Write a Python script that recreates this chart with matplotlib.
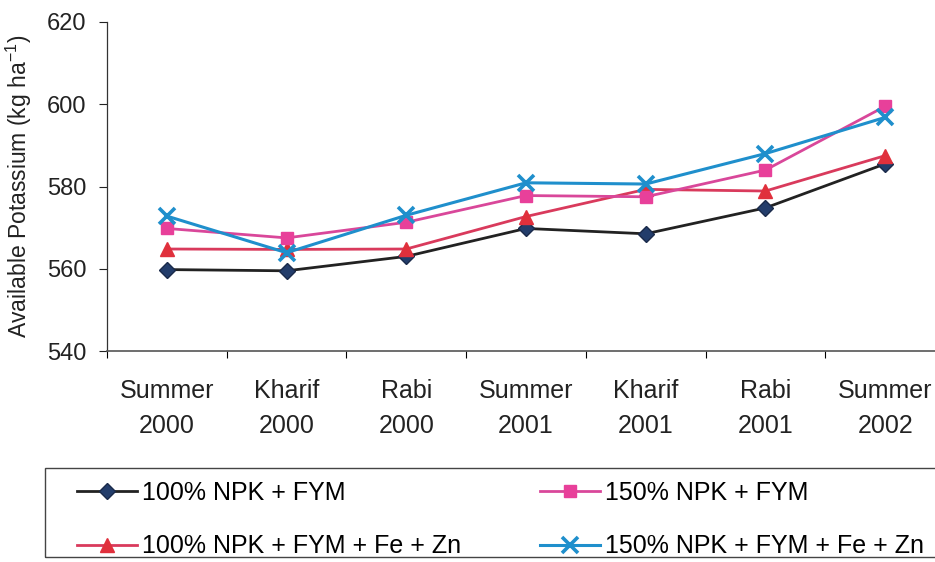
import matplotlib
matplotlib.use("Agg")
import matplotlib.pyplot as plt
from matplotlib.ticker import FixedLocator, NullFormatter
from matplotlib.patches import Rectangle

plt.rcParams['font.family'] = ['Liberation Sans', 'DejaVu Sans']

categories = ["Summer\n2000", "Kharif\n2000", "Rabi\n2000", "Summer\n2001",
              "Kharif\n2001", "Rabi\n2001", "Summer\n2002"]
npk100_fym = [559.8, 559.5, 563.0, 569.8, 568.5, 574.8, 585.5]
npk150_fym = [569.8, 567.5, 571.3, 577.8, 577.5, 584.0, 599.5]
npk100_fym_fezn = [564.8, 564.7, 564.8, 572.7, 579.3, 578.9, 587.5]
npk150_fym_fezn = [572.8, 563.9, 573.0, 580.9, 580.6, 588.0, 596.8]
series_labels = ["100% NPK + FYM", "150% NPK + FYM",
                 "100% NPK + FYM + Fe + Zn", "150% NPK + FYM + Fe + Zn"]
y_ticks = [540, 560, 580, 600, 620]

fig = plt.figure(figsize=(9.35, 5.62), dpi=100)
ax = fig.add_axes([107/935, 1-351/562, 838/935, 329/562])

x = list(range(len(categories)))
h1, = ax.plot(x, npk100_fym, color='#222222', lw=2.0, marker='D', ms=8,
              mfc='#233d6b', mec='#1a2a4a', zorder=3)
h3, = ax.plot(x, npk100_fym_fezn, color='#d93a5c', lw=2.0, marker='^', ms=10,
              mfc='#e0303c', mec='#e0303c', zorder=4)
h2, = ax.plot(x, npk150_fym, color='#d9479a', lw=2.0, marker='s', ms=9,
              mfc='#e8409a', mec='#e8409a', zorder=5)
h4, = ax.plot(x, npk150_fym_fezn, color='#1f8fcc', lw=2.2, marker='x', ms=11,
              mew=2.6, zorder=6)

ax.set_xlim(-0.5, len(categories) - 0.5)
ax.set_ylim(540, 620)
ax.set_yticks(y_ticks)
ax.tick_params(axis='y', direction='out', length=6, width=0.8, pad=9,
               labelsize=17, colors='#222222')

ax.xaxis.set_major_locator(FixedLocator(x))
ax.set_xticklabels(categories, fontsize=18, linespacing=1.6, color='#222222')
ax.tick_params(axis='x', which='major', length=0, pad=20)
ax.xaxis.set_minor_locator(FixedLocator([i + 0.5 for i in range(-1, len(categories))]))
ax.xaxis.set_minor_formatter(NullFormatter())
ax.tick_params(axis='x', which='minor', direction='out', length=5, width=0.8)

for s in ['top', 'right']:
    ax.spines[s].set_visible(False)
ax.spines['left'].set_color('#333333')
ax.spines['bottom'].set_color('#555555')
ax.spines['left'].set_linewidth(0.9)
ax.spines['bottom'].set_linewidth(1.2)

ax.set_ylabel("Available Potassium (kg ha$^{\\mathregular{-1}}$)", fontsize=16.5,
              color='#222222', labelpad=9)

# legend: row-major order as in the reference
handles = [h1, h3, h2, h4]
labels = [series_labels[0], series_labels[2], series_labels[1], series_labels[3]]
leg = fig.legend(handles, labels, ncol=2, loc='upper left',
                 bbox_to_anchor=(72/935, 1-476/562),
                 fontsize=18, frameon=False, handlelength=2.4,
                 handletextpad=0.2, columnspacing=3.15, labelspacing=1.17,
                 borderpad=0.2, borderaxespad=0)
fig.patches.append(Rectangle((45/935, 1-557/562), 900/935, 89/562,
                             transform=fig.transFigure, fill=False,
                             edgecolor='#444444', linewidth=1.0))

fig.savefig("out.png", dpi=100)
